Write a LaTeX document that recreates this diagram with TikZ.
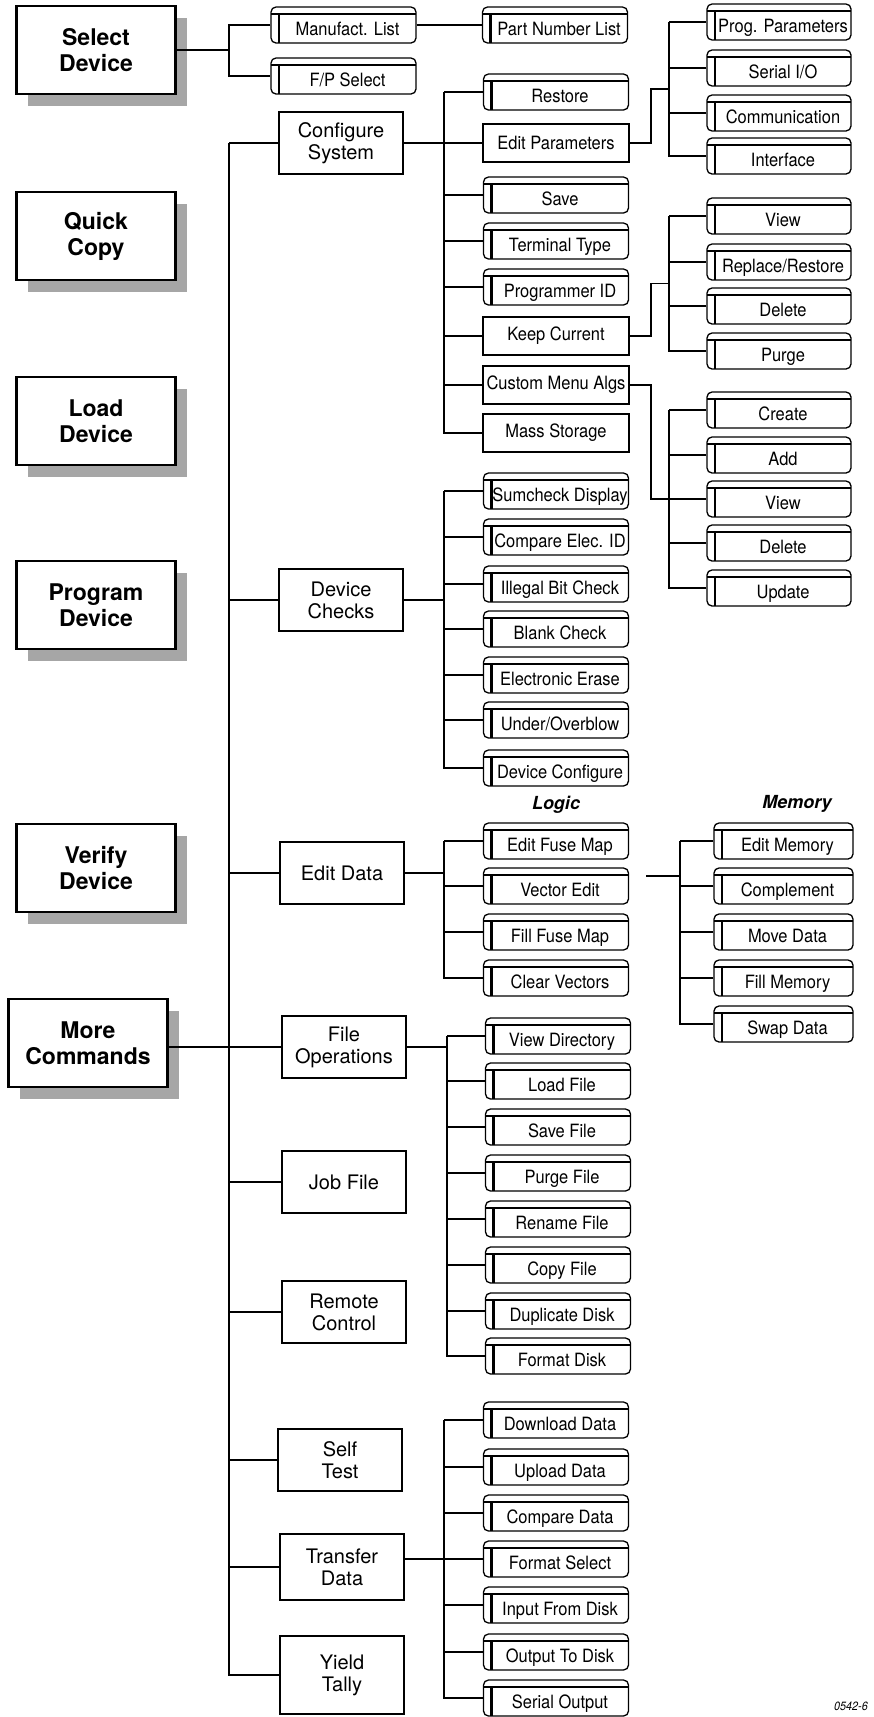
\documentclass[tikz,border=0pt]{standalone}
\usepackage{fontspec}
\setmainfont{TeX Gyre Heros}
\newfontfamily\narrowfont{TeX Gyre Heros}[FakeStretch=0.9]
\usetikzlibrary{calc,shadows}

\begin{document}
\begin{tikzpicture}[
    x=1pt, y=-1pt,
    line width=1.1pt,
    menu/.style={draw, fill=white, line width=2.4pt, minimum width=159pt,
        minimum height=88pt, align=center,
        font=\bfseries\fontsize{23}{26}\selectfont,
        general shadow={fill=black!35, shadow xshift=11pt, shadow yshift=-12pt}},
    sub/.style={draw, line width=2pt, minimum width=124pt, minimum height=62pt,
        align=center, font=\fontsize{20}{22}\selectfont},
    item/.style={draw, line width=2pt, minimum width=146pt, minimum height=38pt,
        inner sep=0pt, font=\narrowfont\fontsize{18.3}{20}\selectfont},
    tabbox/.style={draw, line width=1.3pt, rounded corners=5pt, minimum width=145pt,
        minimum height=36pt, inner sep=0pt, text height=23pt, text depth=2pt,
        font=\narrowfont\fontsize{18.3}{20}\selectfont,
        execute at begin node={\hspace*{8pt}},
        path picture={
            \draw[line width=2.6pt] ([yshift=-7pt]path picture bounding box.north west)
                -- ([yshift=-7pt]path picture bounding box.north east);
            \draw[line width=2.6pt] ([xshift=8pt,yshift=-7pt]path picture bounding box.north west)
                -- ([xshift=8pt]path picture bounding box.south west);
        }},
    grouplabel/.style={font=\bfseries\itshape\fontsize{18}{20}\selectfont}
]
\useasboundingbox (0,0) rectangle (874,1717);

% Main menu
\node[menu] (sel) at (96,50) {Select\\Device};
\node[menu] (qcp) at (96,236) {Quick\\Copy};
\node[menu] (ldd) at (96,421) {Load\\Device};
\node[menu] (pgd) at (96,605) {Program\\Device};
\node[menu] (vfd) at (96,868) {Verify\\Device};
\node[menu] (mcm) at (88,1043) {More\\Commands};

% Spine positions
\coordinate (ss) at (229,0);
\coordinate (ms) at (444,0);
\coordinate (fs) at (447,0);
\coordinate (rs) at (669,0);
\coordinate (mems) at (680,0);

% Select Device
\node[tabbox] (mfl) at (343.5,25) {Manufact. List};
\node[tabbox] (fps) at (343.5,76) {F/P Select};
\node[tabbox] (pnl) at (555,25) {Part Number List};
\draw (sel.east) -- (sel.east -| ss);
\draw (mfl.west) -- (mfl.west -| ss) |- (fps.west);
\draw (mfl.east) -- (pnl.west);

% More Commands
\node[sub] (cfg) at (341,143) {Configure\\System};
\node[sub] (dch) at (341,600) {Device\\Checks};
\node[sub] (edd) at (342,873) {Edit Data};
\node[sub] (fop) at (344,1047) {File\\Operations};
\node[sub] (jbf) at (344,1182) {Job File};
\node[sub] (rmc) at (344,1312) {Remote\\Control};
\node[sub] (slf) at (340,1460) {Self\\Test};
\node[sub, minimum height=66pt] (tfd) at (342,1567) {Transfer\\Data};
\node[sub, minimum height=78pt] (ylt) at (342,1675) {Yield\\Tally};
\draw (cfg.west -| ss) |- (ylt.west);
\foreach \n in {cfg,dch,edd,jbf,rmc,slf,tfd} \draw (\n.west) -- (\n.west -| ss);
\draw (mcm.east |- fop.west) -- (fop.west);

% Configure System
\foreach \name/\y/\txt in {rst/92/Restore, sav/195/Save, trm/241/Terminal Type, pid/287/Programmer ID}
    \node[tabbox] (\name) at (556,\y) {\txt};
\foreach \name/\y/\txt in {edp/143/Edit Parameters, kpc/336/Keep Current, cma/385/Custom Menu Algs, mst/433/Mass Storage}
    \node[item] (\name) at (556,\y) {\txt};
\draw (rst.west -| ms) |- (mst.west);
\foreach \n in {rst,sav,trm,pid,kpc,cma} \draw (\n.west) -- (\n.west -| ms);
\draw (cfg.east) -- (edp.west);

% Edit Parameters
\foreach \name/\y/\txt in {ppr/22/Prog. Parameters, sio/68/{Serial I/O}, com/113/Communication, ifc/156/Interface}
    \node[tabbox, minimum width=144pt] (\name) at (779,\y) {\txt};
\draw (ppr.west -| rs) |- (ifc.west);
\foreach \n in {ppr,sio,com} \draw (\n.west) -- (\n.west -| rs);
\draw (edp.east) -- ++(21,0) |- ($(ppr.west -| rs)!.5!(ifc.west -| rs)$);

% Keep Current
\foreach \name/\y/\txt in {kvw/216/View, krr/262/{Replace/Restore}, kdl/306/Delete, kpg/351/Purge}
    \node[tabbox, minimum width=144pt] (\name) at (779,\y) {\txt};
\draw (kvw.west -| rs) |- (kpg.west);
\foreach \n in {kvw,krr,kdl} \draw (\n.west) -- (\n.west -| rs);
\draw (kpc.east) -- ++(21,0) |- ($(kvw.west -| rs)!.5!(kpg.west -| rs)$);

% Custom Menu Algs
\foreach \name/\y/\txt in {ccr/410/Create, cad/455/Add, cvw/499/View, cdl/543/Delete, cup/588/Update}
    \node[tabbox, minimum width=144pt] (\name) at (779,\y) {\txt};
\draw (ccr.west -| rs) |- (cup.west);
\foreach \n in {ccr,cad,cdl} \draw (\n.west) -- (\n.west -| rs);
\draw (cma.east) -- ++(21,0) |- (cvw.west);

% Device Checks
\foreach \name/\y/\txt in {scd/491/Sumcheck Display, cei/537/Compare Elec. ID, ibc/584/Illegal Bit Check,
        bch/629/Blank Check, eer/675/Electronic Erase, uob/720/{Under/Overblow}, dcf/768/Device Configure}
    \node[tabbox] (\name) at (556,\y) {\txt};
\draw (scd.west -| ms) |- (dcf.west);
\foreach \n in {scd,cei,ibc,bch,eer,uob} \draw (\n.west) -- (\n.west -| ms);
\draw (dch.east) -- (dch.east -| ms);

% Edit Data: Logic
\node[grouplabel] (lgc) at (556,805) {Logic};
\foreach \name/\y/\txt in {efm/841/Edit Fuse Map, vce/886/Vector Edit, ffm/932/Fill Fuse Map, clv/978/Clear Vectors}
    \node[tabbox] (\name) at (556,\y) {\txt};
\draw (efm.west -| ms) |- (clv.west);
\foreach \n in {efm,vce,ffm} \draw (\n.west) -- (\n.west -| ms);
\draw (edd.east) -- (edd.east -| ms);

% Edit Data: Memory
\node[grouplabel] (mem) at (797,804) {Memory};
\foreach \name/\y/\txt in {edm/841/Edit Memory, cpl/886/Complement, mvd/932/Move Data, flm/978/Fill Memory, swd/1024/Swap Data}
    \node[tabbox, minimum width=139pt] (\name) at (783.5,\y) {\txt};
\draw (edm.west -| mems) |- (swd.west);
\foreach \n in {edm,cpl,mvd,flm} \draw (\n.west) -- (\n.west -| mems);
\coordinate (memin) at (646,876);
\draw (memin) -- (memin -| mems);

% File Operations
\foreach \name/\y/\txt in {vdr/1036/View Directory, ldf/1081/Load File, svf/1127/Save File, pgf/1173/Purge File,
        rnf/1219/Rename File, cpf/1265/Copy File, dpd/1311/Duplicate Disk, fmd/1356/Format Disk}
    \node[tabbox] (\name) at (558,\y) {\txt};
\draw (vdr.west -| fs) |- (fmd.west);
\foreach \n in {vdr,ldf,svf,pgf,rnf,cpf,dpd} \draw (\n.west) -- (\n.west -| fs);
\draw (fop.east) -- (fop.east -| fs);

% Transfer Data
\foreach \name/\y/\txt in {dld/1420/Download Data, upd/1467/Upload Data, cmd/1513/Compare Data, fsl/1559/Format Select,
        ifd/1605/Input From Disk, otd/1652/Output To Disk, sro/1698/Serial Output}
    \node[tabbox] (\name) at (556,\y) {\txt};
\draw (dld.west -| ms) |- (sro.west);
\foreach \n in {dld,upd,cmd,ifd,otd} \draw (\n.west) -- (\n.west -| ms);
\draw (tfd.east |- fsl.west) -- (fsl.west);

% Figure number
\node[font=\narrowfont\itshape\fontsize{12}{14}\selectfont] (fig) at (851,1706) {0542-6};

\end{tikzpicture}
\end{document}
